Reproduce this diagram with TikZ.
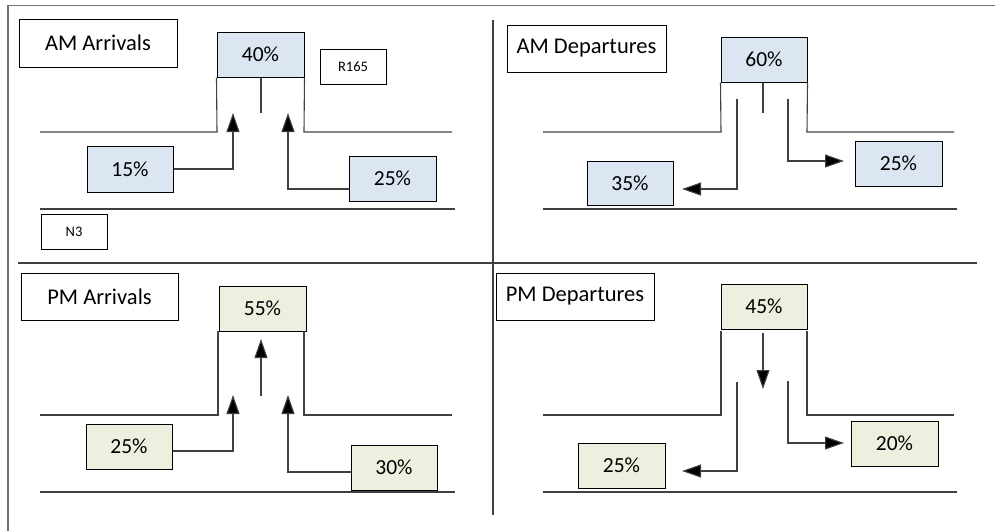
\documentclass[tikz,border=0pt]{standalone}
\usepackage{fontspec}
\setmainfont{Carlito}
\usetikzlibrary{arrows.meta}
\definecolor{bluefill}{HTML}{DCE6F2}
\definecolor{greenfill}{HTML}{EBF1DE}
\definecolor{roadcol}{HTML}{404040}
\definecolor{framecol}{HTML}{707070}
\begin{document}
\begin{tikzpicture}[x=1pt,y=-1pt,
  pbox/.style={draw=black, line width=1pt, inner sep=0pt, minimum width=86pt, minimum height=45pt,
    font=\fontsize{21.5}{24}\selectfont},
  bluebox/.style={pbox, fill=bluefill},
  greenbox/.style={pbox, fill=greenfill},
  titlebox/.style={pbox, fill=white, minimum width=158pt, minimum height=47pt, font=\fontsize{22.5}{25}\selectfont},
  smallbox/.style={draw=black, line width=1pt, inner sep=0pt, minimum width=66pt, minimum height=35pt,
    font=\fontsize{14.5}{16}\selectfont},
  road/.style={draw=roadcol, line width=1.1pt},
  arr/.style={draw=roadcol, line width=1.1pt, -{Triangle[length=19pt,width=13pt,fill=black]}},
  frame/.style={draw=framecol, line width=1.3pt}
]
\useasboundingbox (0,0) rectangle (995,531);
% outer frame and dividers
\draw[frame] (8,531) -- (8,5.5) -- (995,5.5);
\draw[road] (18,263) -- (977,263);
\draw[road] (493,20) -- (493,515);

% ---------------- AM Arrivals
\node[titlebox, minimum height=48pt] (amarr) at (98,43) {AM Arrivals};
\node[bluebox, minimum width=87pt] (a40) at (260.5,54.5) {40\%};
\node[smallbox] (r165) at (353,66.5) {R165};
\node[smallbox] (n3) at (74,231.5) {N3};
\node[bluebox, minimum height=46pt] (a15) at (130,169) {15\%};
\node[bluebox, minimum width=87pt] (a25) at (392.5,178.5) {25\%};
\draw[road] (40,132) -- (217,132) -- (a40.south west);
\draw[road] (a40.south east) -- (304,132) -- (452,132);
\draw[road] (40,209) -- (455,209);
\coordinate (amc) at (261,113);
\draw[road] (a40.south -| amc) -- (amc);
\coordinate (a15t) at (233,113);
\coordinate (a25t) at (288,113);
\draw[arr] (a15.east) -| (a15t);
\draw[arr] ([yshift=-10.5pt]a25.west) -| (a25t);

% ---------------- AM Departures
\node[titlebox, minimum width=159pt] (amdep) at (586.5,48.5) {AM Departures};
\node[bluebox] (d60) at (764,59.5) {60\%};
\node[bluebox, minimum height=44pt] (d35) at (630,183) {35\%};
\node[bluebox, minimum width=87pt] (d25) at (898.5,163.5) {25\%};
\draw[road] (543,132) -- (721,132) -- (d60.south west);
\draw[road] (d60.south east) -- (807,132) -- (954,132);
\draw[road] (543,209) -- (957,209);
\coordinate (dmc) at (763,113);
\draw[road] (d60.south -| dmc) -- (dmc);
\coordinate (d35s) at (737,99);
\coordinate (d35t) at (682,189);
\coordinate (d25s) at (788,99);
\coordinate (d25t) at (844,161);
\draw[arr] (d35s) |- (d35t);
\draw[arr] (d25s) |- (d25t);

% ---------------- PM Arrivals
\node[titlebox, minimum width=157pt] (pmarr) at (99.5,296.5) {PM Arrivals};
\node[greenbox, minimum width=87pt] (p55) at (262.5,308.5) {55\%};
\node[greenbox] (p25) at (129,446.5) {25\%};
\node[greenbox] (p30) at (394,467.5) {30\%};
\draw[road] (40,415) -- (218,415) -- (218,331);
\draw[road] (304,331) -- (304,415) -- (452,415);
\draw[road] (40,492) -- (455,492);
\coordinate (pcs) at (261,396);
\coordinate (pct) at (261,339);
\draw[arr] (pcs) -- (pct);
\coordinate (p25t) at (233,395);
\coordinate (p30t) at (288,395);
\draw[arr] ([yshift=-4.5pt]p25.east) -| (p25t);
\draw[arr] ([yshift=-4.5pt]p30.west) -| (p30t);

% ---------------- PM Departures
\node[titlebox] (pmdep) at (575,296.5) {PM Departures};
\node[greenbox] (q45) at (764,306.5) {45\%};
\node[greenbox, minimum width=87pt] (q25) at (621.5,465.5) {25\%};
\node[greenbox, minimum width=87pt] (q20) at (894.5,443.5) {20\%};
\draw[road] (543,415) -- (721,415) -- (721,331);
\draw[road] (807,331) -- (807,415) -- (954,415);
\draw[road] (543,492) -- (957,492);
\coordinate (qcs) at (763,333);
\coordinate (qct) at (763,389);
\draw[arr] (qcs) -- (qct);
\coordinate (q25s) at (737,382);
\coordinate (q25t) at (682,471);
\coordinate (q20s) at (788,381);
\coordinate (q20t) at (844,443);
\draw[arr] (q25s) |- (q25t);
\draw[arr] (q20s) |- (q20t);
\end{tikzpicture}
\end{document}
